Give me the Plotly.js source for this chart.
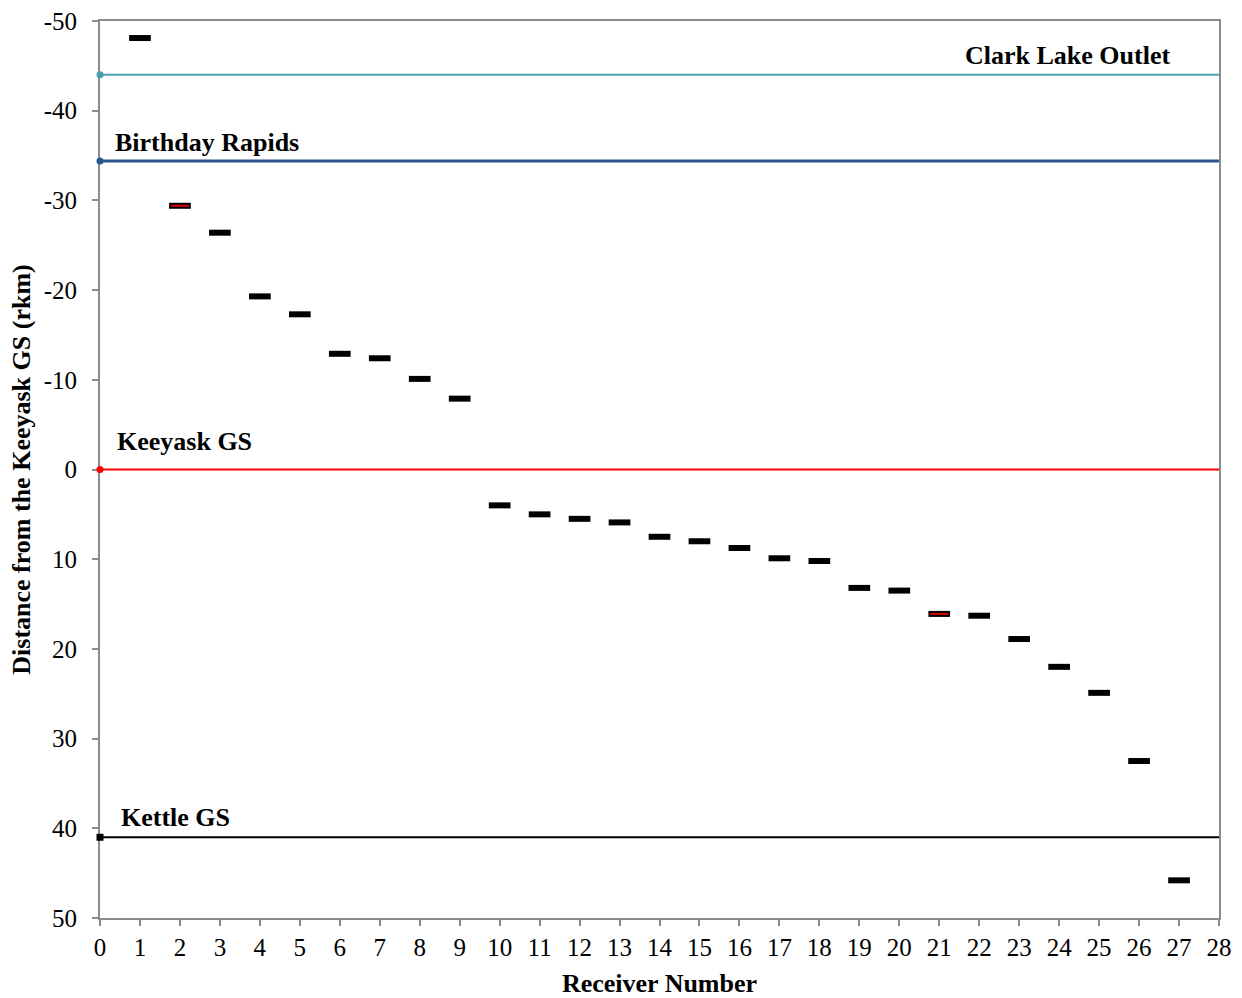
<!DOCTYPE html>
<html>
<head>
<meta charset="utf-8">
<script src="https://cdn.plot.ly/plotly-3.0.1.min.js"></script>
<style>
  html, body { margin: 0; padding: 0; background: #fff; }
  #chart { width: 1242px; height: 998px; }
</style>
</head>
<body>
<div id="chart"></div>
<script>
// Receiver locations, rkm relative to the Keeyask GS (negative = upstream)
const receivers = [1, 2, 3, 4, 5, 6, 7, 8, 9, 10, 11, 12, 13, 14, 15, 16, 17, 18, 19, 20, 21, 22, 23, 24, 25, 26, 27];
const distances = [-48.1, -29.4, -26.4, -19.3, -17.3, -12.9, -12.4, -10.1, -7.9, 4.0, 5.0, 5.5, 5.9, 7.5, 8.0, 8.75, 9.9, 10.2, 13.2, 13.5, 16.1, 16.3, 18.9, 22.0, 24.9, 32.5, 45.8];

// Receivers highlighted with a red centre
const highlighted = [2, 21];

// Reference landmarks along the river
const landmarkNames = ["Clark Lake Outlet", "Birthday Rapids", "Keeyask GS", "Kettle GS"];
const landmarkDistances = [-44, -34.4, 0, 41];
const landmarkColors = ["#4a9fb2", "#2b5390", "#ff0000", "#000000"];
const landmarkWidths = [2, 3, 2, 2];
const landmarkSymbols = ["circle", "circle", "circle", "square"];

// Axis tick labels (plain hyphen for negatives)
const yTickValues = [-50, -40, -30, -20, -10, 0, 10, 20, 30, 40, 50];
const yTickLabels = ["-50", "-40", "-30", "-20", "-10", "0", "10", "20", "30", "40", "50"];

const xSpan = [0, 28];

const traces = [];

// Landmark lines across the full receiver range
landmarkNames.forEach((name, i) => {
  traces.push({
    type: "scatter",
    mode: "lines",
    x: xSpan,
    y: [landmarkDistances[i], landmarkDistances[i]],
    line: { color: landmarkColors[i], width: landmarkWidths[i] },
    name: name,
    hoverinfo: "skip"
  });
});

// Landmark end points sitting on the y axis
landmarkNames.forEach((name, i) => {
  traces.push({
    type: "scatter",
    mode: "markers",
    x: [xSpan[0]],
    y: [landmarkDistances[i]],
    marker: { symbol: landmarkSymbols[i], size: 7, color: landmarkColors[i], line: { width: 0 } },
    cliponaxis: false,
    name: name + " point",
    hoverinfo: "skip"
  });
});

traces.push({
  type: "scatter",
  mode: "markers",
  x: receivers,
  y: distances,
  marker: { symbol: "line-ew", size: 15.5, line: { color: "#000000", width: 6 } },
  name: "Receivers"
});

const hx = receivers.filter(r => highlighted.includes(r));
const hy = hx.map(r => distances[receivers.indexOf(r)]);
traces.push({
  type: "scatter",
  mode: "markers",
  x: hx,
  y: hy,
  marker: { symbol: "line-ew", size: 13, line: { color: "#e00000", width: 2 } },
  name: "Highlighted"
});

// Label positions for the landmark names
const labelX = [21.6, 0.32, 0.38, 0.47];
const labelY = [-46.1, -36.4, -3.1, 38.8];

const serif = "Liberation Serif, Times New Roman, serif";

const annotations = landmarkNames.map((name, i) => ({
  x: labelX[i],
  y: labelY[i],
  xref: "x",
  yref: "y",
  text: "<b>" + name + "</b>",
  showarrow: false,
  xanchor: "left",
  yanchor: "middle",
  font: { family: serif, size: 26, color: "#000" }
}));

const axisFont = { family: serif, size: 25, color: "#000" };

const layout = {
  width: 1242,
  height: 998,
  margin: { l: 100, r: 23, t: 21, b: 80 },
  paper_bgcolor: "#fff",
  plot_bgcolor: "#fff",
  showlegend: false,
  xaxis: {
    range: [0, 28],
    dtick: 1,
    tick0: 0,
    showgrid: false,
    zeroline: false,
    showline: true,
    mirror: true,
    layer: "below traces",
    linecolor: "#8c8c8c",
    linewidth: 2,
    ticks: "outside",
    ticklen: 6,
    tickwidth: 2,
    tickcolor: "#8c8c8c",
    tickfont: axisFont,
    title: { text: "<b>Receiver Number</b>", font: { family: serif, size: 26, color: "#000" }, standoff: 24 }
  },
  yaxis: {
    range: [50, -50],
    tickmode: "array",
    tickvals: yTickValues,
    ticktext: yTickLabels,
    showgrid: false,
    zeroline: false,
    showline: true,
    mirror: true,
    layer: "below traces",
    linecolor: "#8c8c8c",
    linewidth: 2,
    ticks: "outside",
    ticklen: 6,
    tickwidth: 2,
    tickcolor: "#8c8c8c",
    tickfont: axisFont,
    ticklabelstandoff: 10,
    title: { text: "<b>Distance from the Keeyask GS (rkm)</b>", font: { family: serif, size: 26, color: "#000" }, standoff: 6 }
  },
  annotations: annotations
};

Plotly.newPlot("chart", traces, layout, { displayModeBar: false, staticPlot: true });
</script>
</body>
</html>
